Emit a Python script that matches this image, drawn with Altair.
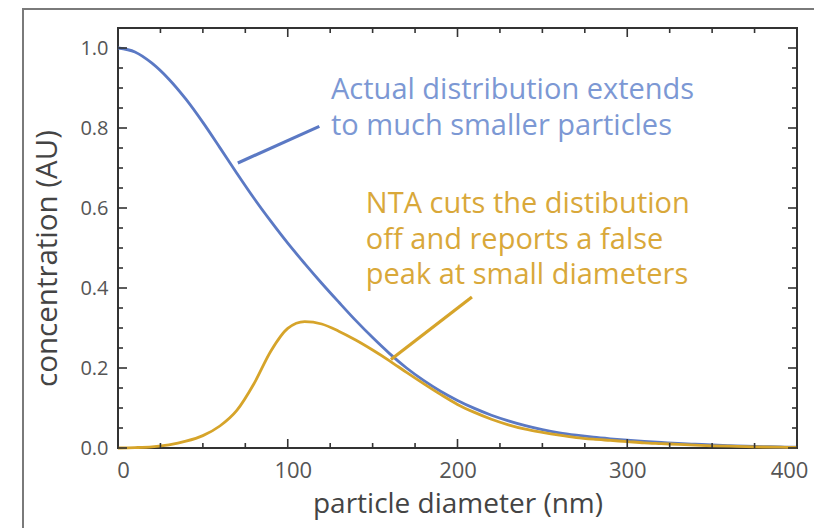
import altair as alt
import pandas as pd

# ---- data ----
diameter_nm = [0, 10, 20, 30, 40, 50, 60, 70, 80, 90, 100, 110, 120, 130, 140, 150,
               160, 170, 180, 190, 200, 210, 220, 230, 240, 250, 260, 270, 280, 290,
               300, 310, 320, 330, 340, 350, 360, 370, 380, 390, 400]
actual = [1.0, 0.99, 0.962, 0.922, 0.872, 0.814, 0.751, 0.687, 0.625, 0.567, 0.512,
          0.461, 0.412, 0.365, 0.319, 0.276, 0.236, 0.200, 0.169, 0.142, 0.119, 0.099,
          0.082, 0.068, 0.056, 0.046, 0.038, 0.032, 0.027, 0.023, 0.0195, 0.0165, 0.014,
          0.0115, 0.0095, 0.0075, 0.006, 0.0045, 0.0035, 0.0025, 0.002]
nta = [0.0, 0.001, 0.003, 0.008, 0.017, 0.031, 0.055, 0.094, 0.160, 0.242, 0.299,
       0.316, 0.310, 0.292, 0.270, 0.245, 0.218, 0.189, 0.161, 0.134, 0.109, 0.089,
       0.072, 0.058, 0.047, 0.039, 0.032, 0.026, 0.022, 0.019, 0.016, 0.013, 0.011,
       0.009, 0.007, 0.0055, 0.0045, 0.0035, 0.0025, 0.002, 0.0015]

x_major = [0, 100, 200, 300, 400]
x_minor = [25, 50, 75, 125, 150, 175, 225, 250, 275, 325, 350, 375]
y_major = [0.0, 0.2, 0.4, 0.6, 0.8, 1.0]
y_minor = [0.05, 0.1, 0.15, 0.25, 0.3, 0.35, 0.45, 0.5, 0.55, 0.65, 0.7, 0.75,
           0.85, 0.9, 0.95]

blue_lines = ["Actual distribution extends", "to much smaller particles"]
blue_text_x = [125.5, 125.5]
blue_text_y = [0.872, 0.782]
gold_lines = ["NTA cuts the distibution", "off and reports a false",
              "peak at small diameters"]
gold_text_x = [146.0, 146.0, 146.0]
gold_text_y = [0.587, 0.498, 0.41]

pointer_series = ["actual", "nta"]
pointer_x = [70.6, 160.8]
pointer_y = [0.7125, 0.221]
pointer_x2 = [118.6, 208.5]
pointer_y2 = [0.804, 0.3775]

BLUE = "#5b79c4"
BLUE_TXT = "#7c98d4"
GOLD = "#d6a42a"
GOLD_TXT = "#d9a83a"
FONT = "Open Sans"
W, H = 679, 420

# ---- tables ----
curves_df = pd.DataFrame({
    "diameter": diameter_nm * 2,
    "conc": actual + nta,
    "series": ["actual"] * len(actual) + ["nta"] * len(nta),
})
blue_df = pd.DataFrame({"x": blue_text_x, "y": blue_text_y, "t": blue_lines})
gold_df = pd.DataFrame({"x": gold_text_x, "y": gold_text_y, "t": gold_lines})
ptr_df = pd.DataFrame({"s": pointer_series, "x": pointer_x, "y": pointer_y,
                       "x2": pointer_x2, "y2": pointer_y2})
xmaj_df = pd.DataFrame({"v": x_major})
xmin_df = pd.DataFrame({"v": x_minor})
ymaj_df = pd.DataFrame({"v": y_major})
ymin_df = pd.DataFrame({"v": y_minor})

xs = alt.Scale(domain=[0, 400], nice=False, zero=False)
ys = alt.Scale(domain=[0, 1.05], nice=False, zero=False)
cs = alt.Scale(domain=["actual", "nta"], range=[BLUE, GOLD])

XAX = alt.Axis(values=x_major, title="particle diameter (nm)", format="d",
               labelFontSize=22, labelPadding=12, titlePadding=9, labelFlush=False,
               titleFontSize=28,
               labelOffset={"expr": "datum.value == 400 ? -8 : (datum.value <= 100 ? 5 : 0)"})
YAX = alt.Axis(values=y_major, format=".1f", title="concentration (AU)",
               labelFontSize=20, labelPadding=10, titlePadding=17, titleFontSize=29.5,
               titleY=230)

def X(f):
    return alt.X(f, scale=xs, axis=XAX, title="particle diameter (nm)")

def Y(f):
    return alt.Y(f, scale=ys, axis=YAX, title="concentration (AU)")

curves = alt.Chart(curves_df).mark_line(strokeWidth=2.8, interpolate="monotone").encode(
    x=X("diameter:Q"), y=Y("conc:Q"),
    color=alt.Color("series:N", scale=cs, legend=None),
)

pointers = alt.Chart(ptr_df).mark_rule(strokeWidth=3.2).encode(
    x=X("x:Q"), y=Y("y:Q"), x2="x2:Q", y2="y2:Q",
    color=alt.Color("s:N", scale=cs, legend=None),
)

blue_txt = alt.Chart(blue_df).mark_text(
    align="left", baseline="alphabetic", font=FONT, fontSize=29, color=BLUE_TXT
).encode(x=X("x:Q"), y=Y("y:Q"), text="t:N")

gold_txt = alt.Chart(gold_df).mark_text(
    align="left", baseline="alphabetic", font=FONT, fontSize=29, color=GOLD_TXT
).encode(x=X("x:Q"), y=Y("y:Q"), text="t:N")

TICK = "#333333"

def xticks(df, length):
    bottom = alt.Chart(df).mark_rule(color=TICK, strokeWidth=1.6).encode(
        x=X("v:Q"), y=alt.value(H), y2=alt.value(H - length))
    top = alt.Chart(df).mark_rule(color=TICK, strokeWidth=1.6).encode(
        x=X("v:Q"), y=alt.value(0), y2=alt.value(length))
    return [bottom, top]

def yticks(df, length):
    left = alt.Chart(df).mark_rule(color=TICK, strokeWidth=1.6).encode(
        y=Y("v:Q"), x=alt.value(0), x2=alt.value(length))
    right = alt.Chart(df).mark_rule(color=TICK, strokeWidth=1.6).encode(
        y=Y("v:Q"), x=alt.value(W), x2=alt.value(W - length))
    return [left, right]

frame = alt.Chart(pd.DataFrame({"k": [0]})).mark_rect(
    fillOpacity=0, stroke="#7a7a7a", strokeWidth=2
).encode(x=alt.value(-95), x2=alt.value(697), y=alt.value(-19), y2=alt.value(540))

layers = [frame, curves, pointers, blue_txt, gold_txt]
layers += xticks(xmaj_df, 9) + xticks(xmin_df, 5)
layers += yticks(ymaj_df, 9) + yticks(ymin_df, 5)

chart = alt.layer(*layers).properties(
    width=W, height=H,
    autosize=alt.AutoSizeParams(type="none"),
    padding={"left": 110, "top": 20, "right": 17, "bottom": 80},
    background="white",
).configure_view(
    stroke="#333333", strokeWidth=2
).configure_axis(
    grid=False, ticks=False, domain=False,
    labelFont=FONT, labelColor="#555555",
    titleFont=FONT, titleColor="#444444", titleFontWeight="normal",
)

chart.save("out.html", embed_options={"renderer": "svg", "actions": False})
